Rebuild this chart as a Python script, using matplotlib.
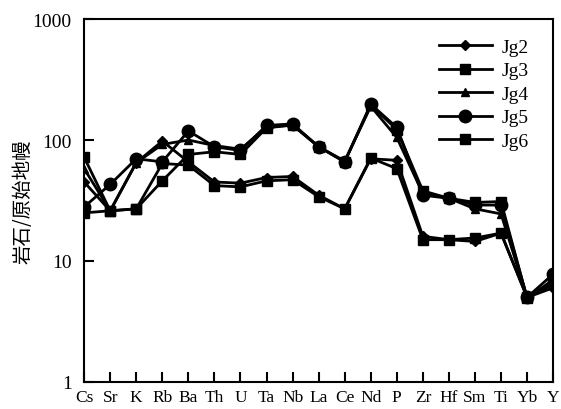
import matplotlib
matplotlib.use("Agg")
import matplotlib.pyplot as plt

plt.rcParams['font.family'] = ['Liberation Serif', 'Noto Sans CJK SC']

elements = ["Cs", "Sr", "K", "Rb", "Ba", "Th", "U", "Ta", "Nb", "La",
            "Ce", "Nd", "P", "Zr", "Hf", "Sm", "Ti", "Yb", "Y"]

# primitive-mantle normalised values
jg2 = [45, 26, 65, 98, 66, 45, 44, 49, 50, 35, 27, 70, 68, 16, 15, 14.5, 17, 5.0, 6.0]
jg3 = [72, 26, 27, 46, 76, 80, 76, 126, 133, 88, 66, 195, 122, 38, 33, 30.5, 31, 4.9, 7.0]
jg4 = [58, 26, 65, 92, 100, 90, 84, 128, 133, 88, 67, 190, 105, 36, 33, 27, 24.5, 5.0, 6.5]
jg5 = [28, 43, 70, 66, 119, 88, 82, 132, 136, 88, 66, 198, 127, 35, 33, 29, 29, 5.0, 7.8]
jg6 = [25, 26, 27, 64, 62, 42, 41, 46, 47, 34, 27, 71, 58, 15, 15, 15.5, 17, 5.0, 6.4]

series = [("Jg2", jg2, "D", 5), ("Jg3", jg3, "s", 7.5),
          ("Jg4", jg4, "^", 5.5), ("Jg5", jg5, "o", 9),
          ("Jg6", jg6, "s", 7.5)]

fig = plt.figure(figsize=(5.61, 4.10), dpi=100)
ax = fig.add_axes([0.150, 0.066, 0.836, 0.885])

x = list(range(len(elements)))
for name, vals, mk, ms in series:
    ax.plot(x, vals, color="black", marker=mk, markersize=ms, linewidth=2.0,
            label=name)

ax.set_yscale("log")
ax.set_ylim(1, 1000)
ax.set_xlim(0, len(elements) - 1)
ax.set_yticks([1, 10, 100, 1000])
ax.set_yticklabels(["1", "10", "100", "1000"])
ax.minorticks_off()
ax.set_xticks(x)
ax.set_xticklabels(elements)
ax.tick_params(direction="in", length=7, width=1.5)
ax.tick_params(axis="x", pad=5, labelsize=12.5)
ax.tick_params(axis="y", pad=9, labelsize=14)
for sp in ax.spines.values():
    sp.set_linewidth(1.5)

ax.set_ylabel("岩石/原始地幔", fontsize=14, family=["Noto Sans CJK SC"])
ax.yaxis.set_label_coords(-0.108, 0.5)

ax.legend(loc="upper right", bbox_to_anchor=(0.985, 0.995), frameon=False,
          fontsize=14, handlelength=2.7, labelspacing=0.3, handletextpad=0.5)

fig.savefig("out.png", dpi=100)
